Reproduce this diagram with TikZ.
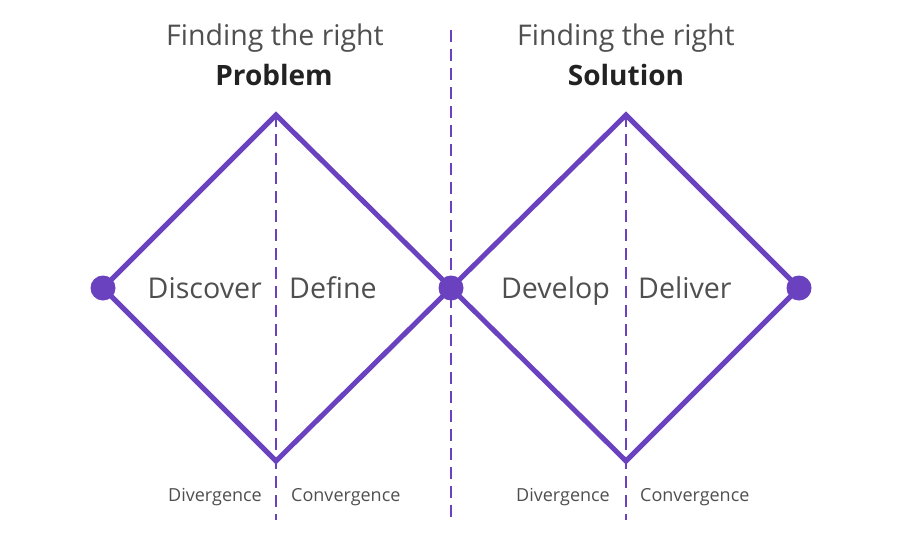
\documentclass[tikz,border=0pt]{standalone}
\usepackage{fontspec}
\setmainfont{Open Sans}
\definecolor{dpurple}{HTML}{6A41BE}
\definecolor{txtgray}{HTML}{4F4F4F}
\definecolor{titlegray}{HTML}{222222}
\begin{document}
\begin{tikzpicture}[x=1pt,y=-1pt,
  edge/.style={draw=dpurple,line width=5pt,line join=miter},
  divider/.style={draw=dpurple,line width=1.8pt,dash pattern=on 12pt off 7pt},
  dot/.style={circle,fill=dpurple,inner sep=0pt,minimum size=25pt},
  phase/.style={font=\fontsize{28.6}{32}\selectfont,text=txtgray,inner sep=0pt},
  smalllabel/.style={font=\fontsize{18}{21}\selectfont,text=txtgray,inner sep=0pt},
  titlea/.style={font=\fontsize{28.5}{32}\selectfont,text=txtgray,inner sep=0pt,anchor=base},
  titleb/.style={font=\fontsize{28}{32}\selectfont\bfseries,text=titlegray,inner sep=0pt,anchor=base}]
\useasboundingbox (0,0) rectangle (900,549);
% key points
\coordinate (T1) at (276,115);
\coordinate (B1) at (276,461);
\coordinate (T2) at (626,115);
\coordinate (B2) at (626,461);
\coordinate (D1end) at (276,520);
\coordinate (D2end) at (626,520);
\coordinate (Ctop) at (451,30);
\coordinate (Cend) at (451,520);
% dividers
\draw[divider] (T1) -- (D1end);
\draw[divider] (T2) -- (D2end);
\draw[divider] (Ctop) -- (Cend);
% diamonds
\draw[edge] (103,288) coordinate (L) -- (T1) -- (451,288) coordinate (M) -- (B1) -- cycle;
\draw[edge] (M) -- (T2) -- (799,288) coordinate (R) -- (B2) -- cycle;
% dots
\node[dot] (dL) at (L) {};
\node[dot] (dM) at (M) {};
\node[dot] (dR) at (R) {};
% titles
\node[titlea] (t1a) at (275,45) {Finding the right};
\node[titleb] (t1b) at (274,85) {Problem};
\node[titlea] (t2a) at (626,45) {Finding the right};
\node[titleb] (t2b) at (626,85) {Solution};
% phases
\node[phase,anchor=base east] (discover) at (262,298) {Discover};
\node[phase,anchor=base west] (define) at (289,298) {Define};
\node[phase,anchor=base east] (develop) at (610,298) {Develop};
\node[phase,anchor=base west] (deliver) at (638,298) {Deliver};
% small labels
\node[smalllabel,anchor=base east] (div1) at (262,501) {Divergence};
\node[smalllabel,anchor=base west] (con1) at (291,501) {Convergence};
\node[smalllabel,anchor=base east] (div2) at (610,501) {Divergence};
\node[smalllabel,anchor=base west] (con2) at (640,501) {Convergence};
\end{tikzpicture}
\end{document}
